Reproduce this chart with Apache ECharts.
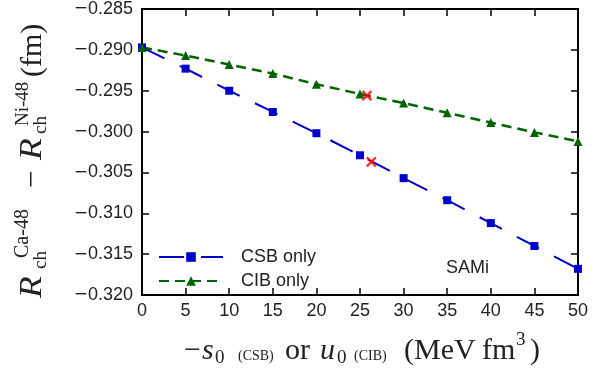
<!DOCTYPE html>
<html><head><meta charset="utf-8">
<script src="https://cdn.jsdelivr.net/npm/echarts@6/dist/echarts.min.js"></script>
<style>html,body{margin:0;padding:0;background:#fff}#c{width:610px;height:373px}</style>
</head><body><div id="c"></div>
<script>
// ---- data ----
const xValues = [0, 5, 10, 15, 20, 25, 30, 35, 40, 45, 50];
const csbValues = [-0.2897, -0.2923, -0.2950, -0.2976, -0.3002, -0.3029, -0.3057, -0.3084, -0.3112, -0.3140, -0.3168];
const cibValues = [-0.2897, -0.2907, -0.2918, -0.2929, -0.2942, -0.2954, -0.2965, -0.2977, -0.2989, -0.3001, -0.3012];
const crossX = [25.8, 26.3];
const crossY = [-0.2956, -0.3037];
const seriesNames = ['CSB only', 'CIB only'];
const annotation = 'SAMi';

const pairs = (xs, ys) => xs.map((x, i) => [x, ys[i]]);
const SANS = 'Liberation Sans';
const SERIF = 'Liberation Serif';
const minusRich = { m: { fontFamily: 'DejaVu Sans', fontSize: 17, color: '#222' }, n: { fontFamily: SANS, fontSize: 18, color: '#222' } };

const chart = echarts.init(document.getElementById('c'), null, { renderer: 'canvas' });

function t(x, y, text, size, opts) {
  opts = opts || {};
  const el = {
    type: 'text', x: x, y: y,
    style: {
      text: text,
      fontFamily: opts.family || SERIF,
      fontSize: size,
      fontStyle: opts.italic ? 'italic' : 'normal',
      fill: '#222',
      align: 'left', verticalAlign: 'middle',
      textAlign: 'left', textVerticalAlign: 'middle'
    }
  };
  if (opts.sx) el.scaleX = opts.sx;
  return el;
}

const axisCommon = {
  type: 'value', min: 0, max: 50, interval: 5,
  axisLine: { onZero: false, lineStyle: { color: '#000', width: 2 } },
  axisTick: { inside: true, length: 7, lineStyle: { color: '#000', width: 1.5 } },
  splitLine: { show: false }
};
const yCommon = {
  type: 'value', min: -0.32, max: -0.285, interval: 0.005,
  axisLine: { onZero: false, lineStyle: { color: '#000', width: 2 } },
  axisTick: { inside: true, length: 7, lineStyle: { color: '#000', width: 1.5 } },
  splitLine: { show: false }
};

chart.setOption({
  animation: false,
  backgroundColor: '#fff',
  grid: { left: 142, right: 32, top: 8, bottom: 78 },
  xAxis: [
    Object.assign({}, axisCommon, {
      position: 'bottom',
      axisLabel: { margin: 7, color: '#222', fontFamily: SANS, fontSize: 18 }
    }),
    Object.assign({}, axisCommon, { position: 'top', axisLabel: { show: false } })
  ],
  yAxis: [
    Object.assign({}, yCommon, {
      position: 'left',
      axisLabel: {
        margin: 9,
        formatter: v => '{m|−}{n|' + Math.abs(v).toFixed(3) + '}',
        rich: minusRich
      }
    }),
    Object.assign({}, yCommon, { position: 'right', axisLabel: { show: false } })
  ],
  legend: {
    orient: 'vertical', left: 158, top: 248, itemGap: 6, padding: 0,
    itemWidth: 64, itemHeight: 12,
    data: seriesNames,
    textStyle: { fontFamily: SANS, fontSize: 18, color: '#222', padding: [0, 0, 0, 13] }
  },
  series: [
    {
      name: seriesNames[0], type: 'line', data: pairs(xValues, csbValues),
      symbol: 'rect', symbolSize: 8,
      lineStyle: { color: '#0000cc', width: 2, type: [25, 17] },
      itemStyle: { color: '#0000cc' }
    },
    {
      name: seriesNames[1], type: 'line', data: pairs(xValues, cibValues),
      symbol: 'triangle', symbolSize: 9,
      lineStyle: { color: '#006400', width: 2.5, type: [10, 6] },
      itemStyle: { color: '#006400' }
    },
    {
      name: 'cross', type: 'scatter', data: pairs(crossX, crossY),
      symbol: 'path://M0,0L10,10M10,0L0,10', symbolSize: 9,
      itemStyle: { color: 'none', borderColor: '#ff0000', borderWidth: 2.5 },
      z: 5
    }
  ],
  graphic: [
    t(446, 268, annotation, 18, { family: SANS }),
    {
      type: 'group', x: 0, y: 298, rotation: Math.PI / 2,
      children: [
        t(0, 33, 'R', 31, { italic: true, sx: 1.15 }),
        t(29, 41, 'ch', 19),
        t(40, 23, 'Ca-48', 20),
        t(110, 33, '−', 31),
        t(138, 33, 'R', 31, { italic: true, sx: 1.15 }),
        t(164, 41, 'ch', 19),
        t(172, 23, 'Ni-48', 19),
        t(221, 33, '(fm)', 30)
      ]
    },
    {
      type: 'group', x: 0, y: 0,
      children: [
        t(184, 351, '−', 30),
        t(202, 351, 's', 30, { italic: true }),
        t(215, 358.5, '0', 19),
        t(238, 356, '(CSB)', 14),
        t(285, 351, 'or', 30),
        t(320, 351, 'u', 30, { italic: true }),
        t(337, 358.5, '0', 19),
        t(354, 356, '(CIB)', 14),
        t(404, 351, '(MeV', 30),
        t(482, 351, 'fm', 30),
        t(516, 340, '3', 19),
        t(530, 351, ')', 30)
      ]
    }
  ]
});
</script></body></html>
